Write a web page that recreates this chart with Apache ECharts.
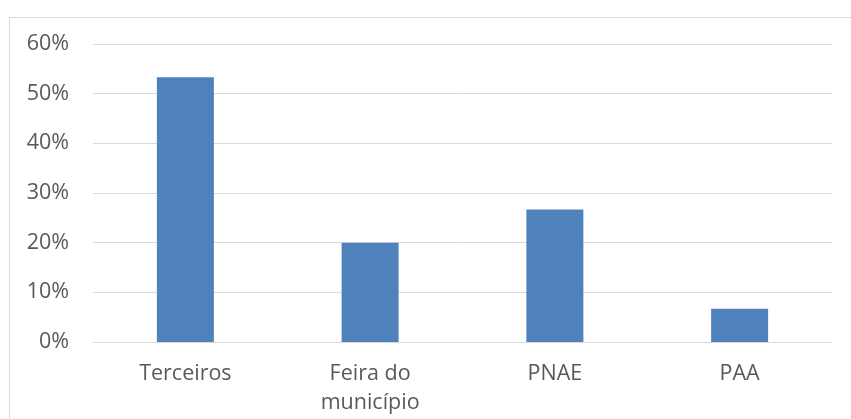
<!DOCTYPE html>
<html>
<head>
<meta charset="utf-8">
<script src="https://cdn.jsdelivr.net/npm/echarts@6/dist/echarts.min.js"></script>
<style>html,body{margin:0;padding:0;background:#fff;}#c{width:851px;height:419px;}</style>
</head>
<body>
<div id="c"></div>
<script>
var categories = ['Terceiros', 'Feira do\nmunicípio', 'PNAE', 'PAA'];
var values = [53.33, 20.0, 26.67, 6.67];
var yTicks = [0, 10, 20, 30, 40, 50, 60];

var chart = echarts.init(document.getElementById('c'), null, {renderer: 'canvas'});
chart.setOption({
  animation: false,
  backgroundColor: '#ffffff',
  graphic: [{
    type: 'rect',
    shape: {x: 9.5, y: 17.5, width: 900, height: 500},
    style: {fill: 'none', stroke: '#d9d9d9', lineWidth: 1},
    silent: true, z: -1
  }],
  grid: {left: 93, right: 19, top: 44, bottom: 77, containLabel: false},
  xAxis: {
    type: 'category',
    data: categories,
    axisTick: {show: false},
    axisLine: {show: true, lineStyle: {color: '#d9d9d9', width: 1}},
    axisLabel: {color: '#595959', fontSize: 21.5, fontFamily: 'Open Sans', margin: 18, lineHeight: 28.5, interval: 0}
  },
  yAxis: {
    type: 'value',
    min: yTicks[0], max: yTicks[yTicks.length - 1], interval: 10,
    axisLine: {show: false},
    axisTick: {show: false},
    splitLine: {lineStyle: {color: '#d9d9d9', width: 1}},
    axisLabel: {color: '#595959', fontSize: 21.5, fontFamily: 'Open Sans', margin: 24, formatter: function(v){return v + '%';}}
  },
  series: [{
    type: 'bar',
    data: values,
    barWidth: 57,
    itemStyle: {color: '#4f81bd'}
  }]
});
</script>
</body>
</html>
